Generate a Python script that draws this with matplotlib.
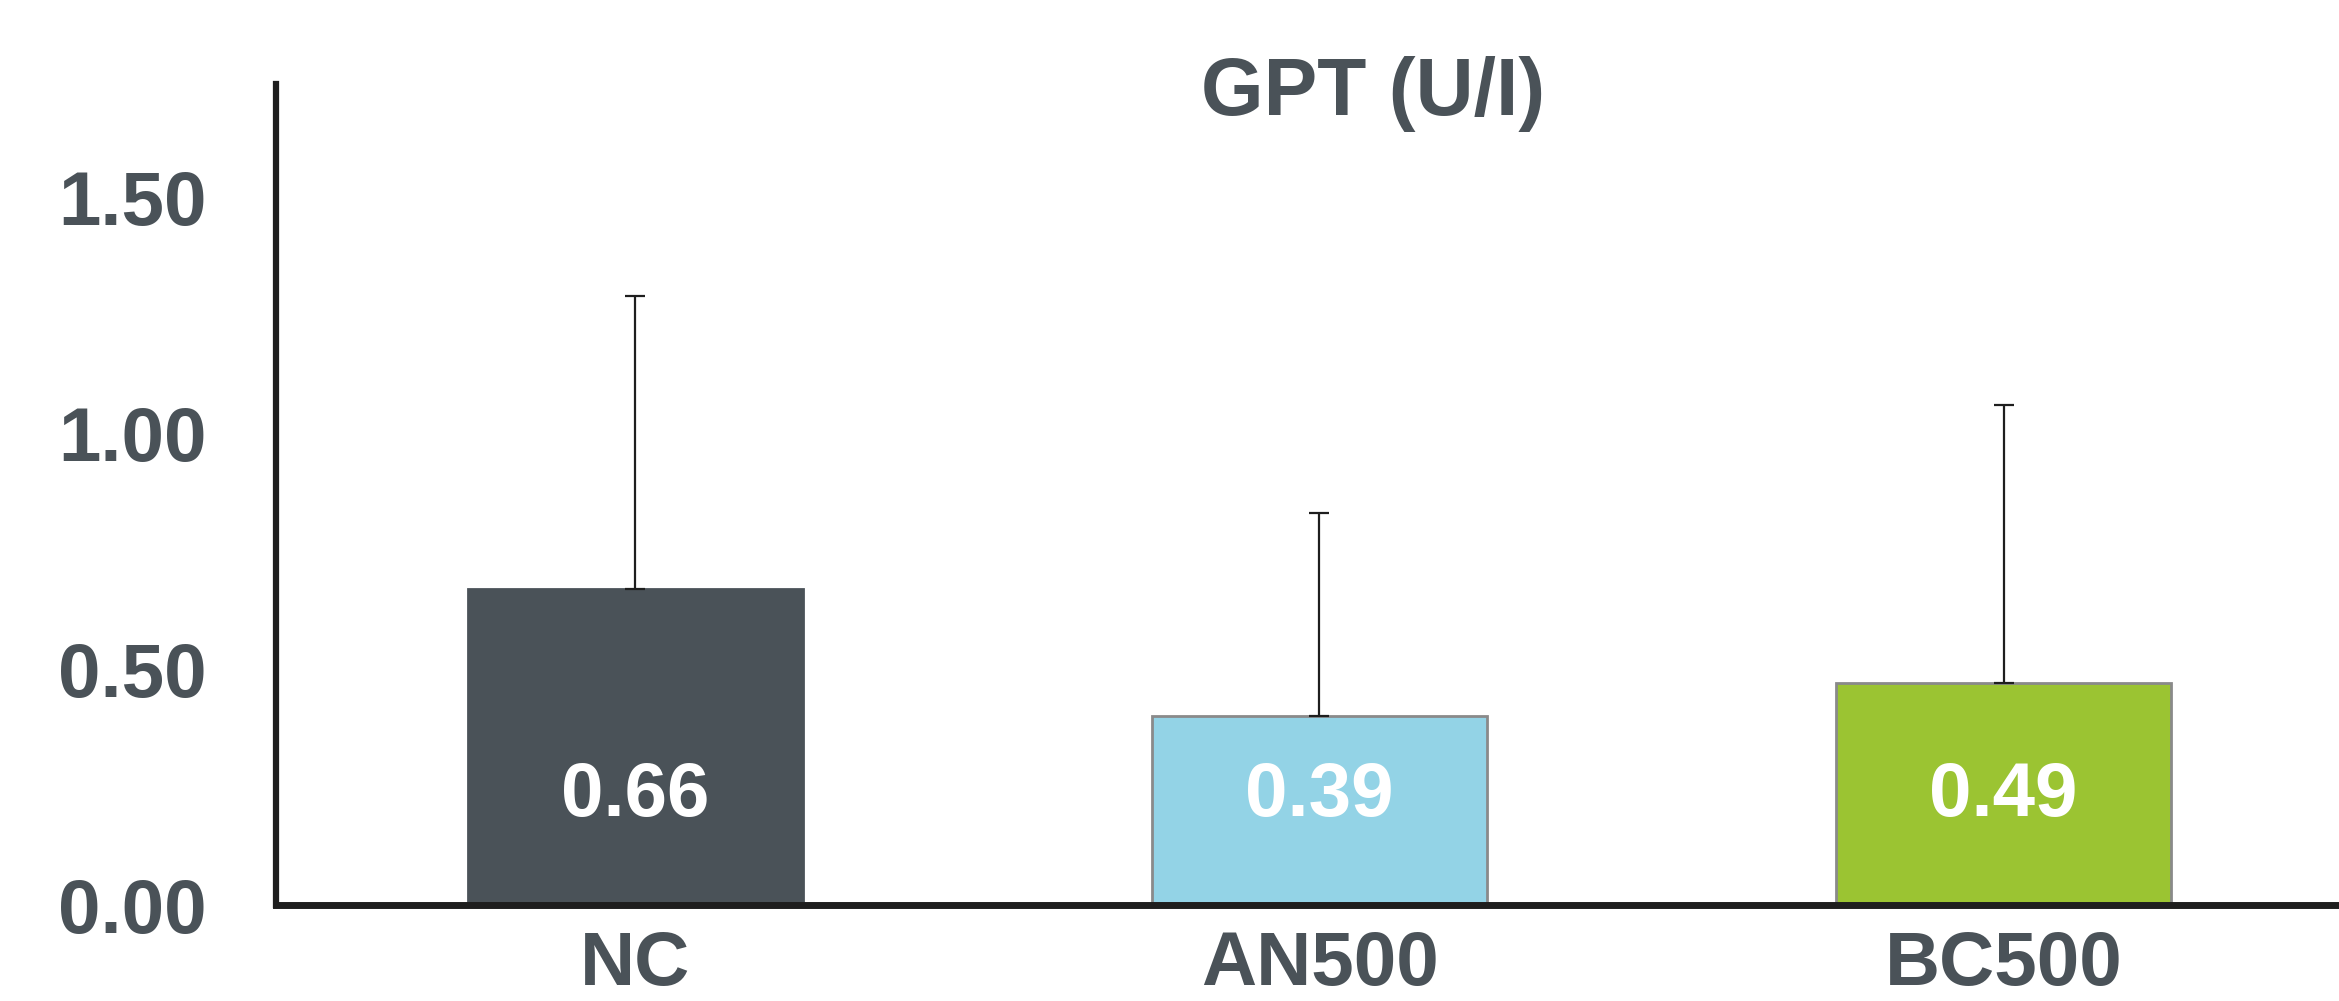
import matplotlib.pyplot as plt

groups = ["NC", "AN500", "BC500"]
means = [0.67, 0.40, 0.47]
value_labels = ["0.66", "0.39", "0.49"]
err_tops = [1.29, 0.83, 1.06]
bar_colors = ["#4a5258", "#93d3e6", "#9bc432"]
edge_colors = ["#4a5258", "#8a8a8a", "#8a8a8a"]
ticks = [0.0, 0.5, 1.0, 1.5]
tick_labels = ["0.00", "0.50", "1.00", "1.50"]

text_color = "#4a5258"
plt.rcParams['font.family'] = ['Liberation Sans', 'DejaVu Sans']
plt.rcParams['font.weight'] = 'bold'

fig = plt.figure(figsize=(23.39, 10.01), dpi=100)
ax = fig.add_axes([0.118, 0.0959, 0.882, 0.820])

x = list(range(len(groups)))
errors = [t - m for t, m in zip(err_tops, means)]
ax.bar(x, means, width=0.49, color=bar_colors, edgecolor=edge_colors, linewidth=2.0, zorder=1)
ax.errorbar(x, means, yerr=[[0] * len(errors), errors], fmt='none', ecolor="#1e1e1e",
            elinewidth=1.6, capsize=7, capthick=1.6, zorder=2)

for xi, lab in zip(x, value_labels):
    ax.text(xi, 0.23, lab, ha='center', va='center', color='white',
            fontsize=55, fontweight='bold')

ax.set_xlim(-0.525, 2.49)
ax.set_ylim(0, 1.74)
ax.set_yticks(ticks)
ax.set_yticklabels(tick_labels)
ax.set_xticks(x)
ax.set_xticklabels(groups)
ax.tick_params(axis='y', length=0, pad=50, labelsize=55, labelcolor=text_color)
ax.tick_params(axis='x', length=0, pad=18, labelsize=55, labelcolor=text_color)

for side in ['top', 'right']:
    ax.spines[side].set_visible(False)
ax.spines['left'].set_linewidth(4.5)
ax.spines['bottom'].set_linewidth(5)
ax.spines['left'].set_color("#1e1e1e")
ax.spines['bottom'].set_color("#1e1e1e")

fig.text(0.587, 0.906, "GPT (U/I)", ha='center', va='center', color=text_color,
         fontsize=58, fontweight='bold')

fig.savefig("out.png", dpi=100)
